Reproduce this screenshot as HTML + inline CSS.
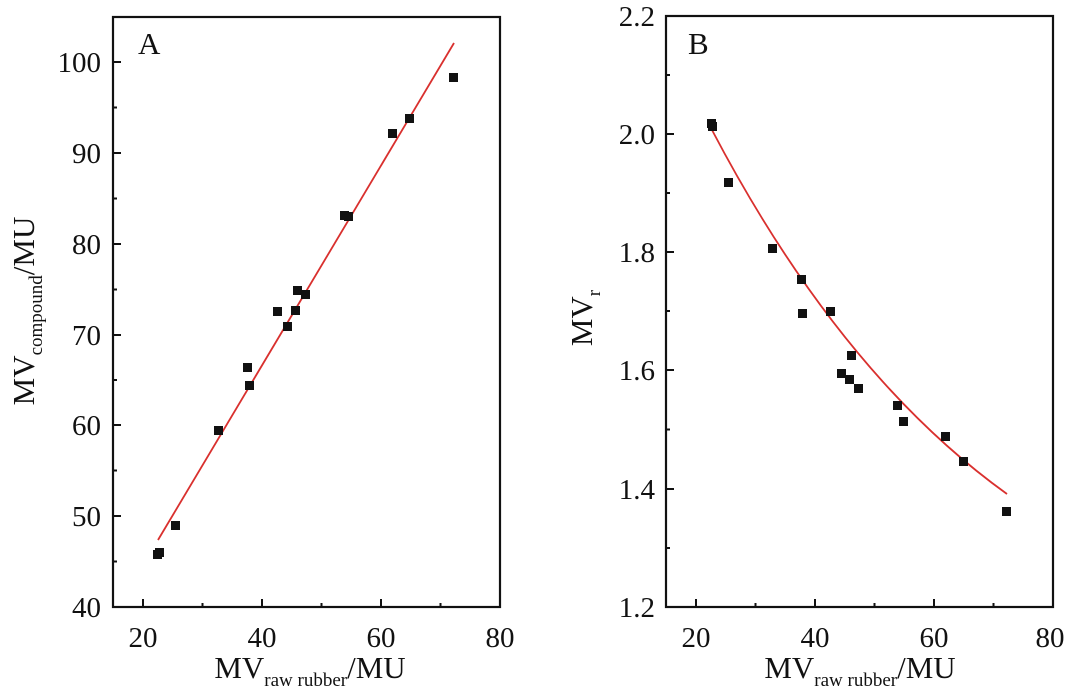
<!DOCTYPE html>
<html><head><meta charset="utf-8"><style>
html,body{margin:0;padding:0;background:#fff;}
svg{display:block;font-family:"Liberation Serif",serif;}
</style></head><body>
<svg width="1073" height="692" viewBox="0 0 1073 692" xmlns="http://www.w3.org/2000/svg">
<g fill="#111" font-size="29">
<!-- Panel A -->
<rect x="113" y="17" width="387" height="590" fill="none" stroke="#111" stroke-width="2.2"/>
<g stroke="#111" stroke-width="2">
<line x1="143" y1="607" x2="143" y2="599"/><line x1="262" y1="607" x2="262" y2="599"/><line x1="381" y1="607" x2="381" y2="599"/>
<line x1="202.5" y1="607" x2="202.5" y2="603"/><line x1="321.5" y1="607" x2="321.5" y2="603"/><line x1="440.5" y1="607" x2="440.5" y2="603"/>
<line x1="113" y1="62" x2="121" y2="62"/><line x1="113" y1="153" x2="121" y2="153"/><line x1="113" y1="244" x2="121" y2="244"/><line x1="113" y1="335" x2="121" y2="335"/><line x1="113" y1="425" x2="121" y2="425"/><line x1="113" y1="516" x2="121" y2="516"/>
<line x1="113" y1="107.5" x2="117" y2="107.5"/><line x1="113" y1="198.5" x2="117" y2="198.5"/><line x1="113" y1="289.5" x2="117" y2="289.5"/><line x1="113" y1="380" x2="117" y2="380"/><line x1="113" y1="470.5" x2="117" y2="470.5"/><line x1="113" y1="561.5" x2="117" y2="561.5"/>
</g>
<g text-anchor="end">
<text x="101" y="72">100</text><text x="101" y="163">90</text><text x="101" y="254">80</text><text x="101" y="345">70</text><text x="101" y="435">60</text><text x="101" y="526">50</text><text x="101" y="617">40</text>
</g>
<g text-anchor="middle">
<text x="143" y="647">20</text><text x="262" y="647">40</text><text x="381" y="647">60</text><text x="500" y="647">80</text>
</g>
<text x="138" y="54" font-size="31">A</text>
<text x="310" y="678" text-anchor="middle" font-size="31">MV<tspan font-size="19" dy="8">raw rubber</tspan><tspan dy="-8">/MU</tspan></text>
<text transform="translate(34,311) rotate(-90)" text-anchor="middle" font-size="31">MV<tspan font-size="19" dy="8">compound</tspan><tspan dy="-8">/MU</tspan></text>
<line x1="158" y1="540" x2="454" y2="43" stroke="#d9302e" stroke-width="1.8"/>
<g>
<rect x="155" y="548" width="9" height="9"/><rect x="153" y="550" width="9" height="9"/><rect x="171" y="521" width="9" height="9"/><rect x="214" y="426" width="9" height="9"/><rect x="243" y="363" width="9" height="9"/><rect x="245" y="381" width="9" height="9"/><rect x="273" y="307" width="9" height="9"/><rect x="283" y="322" width="9" height="9"/><rect x="291" y="306" width="9" height="9"/><rect x="293" y="286" width="9" height="9"/><rect x="301" y="290" width="9" height="9"/><rect x="340" y="211" width="9" height="9"/><rect x="344" y="212" width="9" height="9"/><rect x="388" y="129" width="9" height="9"/><rect x="405" y="114" width="9" height="9"/><rect x="449" y="73" width="9" height="9"/>
</g>
<!-- Panel B -->
<rect x="666" y="16" width="387" height="591" fill="none" stroke="#111" stroke-width="2.2"/>
<g stroke="#111" stroke-width="2">
<line x1="696" y1="607" x2="696" y2="599"/><line x1="815" y1="607" x2="815" y2="599"/><line x1="934" y1="607" x2="934" y2="599"/>
<line x1="755.5" y1="607" x2="755.5" y2="603"/><line x1="874.5" y1="607" x2="874.5" y2="603"/><line x1="993.5" y1="607" x2="993.5" y2="603"/>
<line x1="666" y1="134" x2="674" y2="134"/><line x1="666" y1="252" x2="674" y2="252"/><line x1="666" y1="370" x2="674" y2="370"/><line x1="666" y1="489" x2="674" y2="489"/>
<line x1="666" y1="75" x2="670" y2="75"/><line x1="666" y1="193" x2="670" y2="193"/><line x1="666" y1="311" x2="670" y2="311"/><line x1="666" y1="429.5" x2="670" y2="429.5"/><line x1="666" y1="548" x2="670" y2="548"/>
</g>
<g text-anchor="end">
<text x="655" y="26">2.2</text><text x="655" y="144">2.0</text><text x="655" y="262">1.8</text><text x="655" y="380">1.6</text><text x="655" y="499">1.4</text><text x="655" y="617">1.2</text>
</g>
<g text-anchor="middle">
<text x="696" y="647">20</text><text x="815" y="647">40</text><text x="934" y="647">60</text><text x="1050" y="647">80</text>
</g>
<text x="688" y="54" font-size="31">B</text>
<text x="860" y="678" text-anchor="middle" font-size="31">MV<tspan font-size="19" dy="8">raw rubber</tspan><tspan dy="-8">/MU</tspan></text>
<text transform="translate(592,318) rotate(-90)" text-anchor="middle" font-size="31">MV<tspan font-size="19" dy="8">r</tspan></text>
<path d="M712,130 Q840,374 1007,494" fill="none" stroke="#d9302e" stroke-width="1.8"/>
<g>
<rect x="707" y="119" width="9" height="9"/><rect x="708" y="122" width="9" height="9"/><rect x="724" y="178" width="9" height="9"/><rect x="768" y="244" width="9" height="9"/><rect x="797" y="275" width="9" height="9"/><rect x="798" y="309" width="9" height="9"/><rect x="826" y="307" width="9" height="9"/><rect x="837" y="369" width="9" height="9"/><rect x="845" y="375" width="9" height="9"/><rect x="847" y="351" width="9" height="9"/><rect x="854" y="384" width="9" height="9"/><rect x="893" y="401" width="9" height="9"/><rect x="899" y="417" width="9" height="9"/><rect x="941" y="432" width="9" height="9"/><rect x="959" y="457" width="9" height="9"/><rect x="1002" y="507" width="9" height="9"/>
</g>
</g>
</svg>
</body></html>
